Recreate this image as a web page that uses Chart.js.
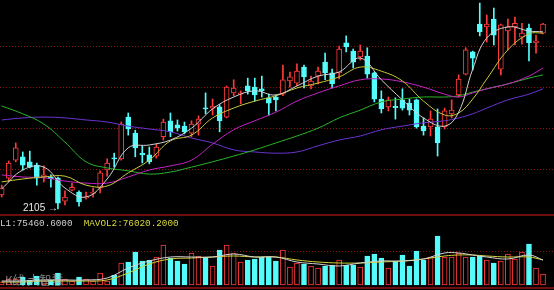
<!DOCTYPE html>
<html>
<head>
<meta charset="utf-8">
<script src="https://cdn.jsdelivr.net/npm/chart.js@4.4.1/dist/chart.umd.min.js"></script>
<style>
  body { margin: 0; background: #000; width: 554px; height: 290px; overflow: hidden; position: relative; }
  canvas { position: absolute; left: 0; }
  #price { top: 0; }
  #vol { top: 214px; }
  .sep { position: absolute; left: 0; width: 554px; height: 2px; background: #6e0f0f; }
  .txt { position: absolute; white-space: pre; }
</style>
</head>
<body>
<canvas id="price" width="554" height="214"></canvas>
<canvas id="vol" width="554" height="76"></canvas>
<div class="sep" style="top:214px"></div>
<div class="sep" style="top:287px"></div>
<div class="txt" id="lowLabel" style="left:23px;top:202px;font:10px 'Liberation Sans';color:#e8e8e8"></div>
<div class="txt" style="left:0;top:218px;font:9.3px 'Liberation Mono';color:#d0d0d0"><span id="mv1"></span>  <span id="mv2" style="color:#d8d840"></span></div>
<div class="txt" style="left:5px;top:271px;font:12px 'Noto Sans CJK SC';color:rgba(170,170,170,0.75)">K线 大智慧</div>
<script>
// daily candles, k = 0..77
const opens  = [2139,2180,2224,2232,2220,2212,2183,2182,2180,2124,2151,2146,2132,2143,2156,2200,2229,2227,2329,2290,
                2241,2237,2234,2281,2320,2310,2307,2290,2312,2351,2351,2354,2329,2388,2385,2405,2402,2398,2376,2378,
                2385,2417,2412,2451,2405,2429,2463,2437,2437,2510,2490,2476,2478,2437,2373,2354,2355,2371,2363,2371,
                2307,2305,2305,2305,2337,2383,2434,2488,2556,2549,2568,2446,2539,2549,2524,2546,2510,2534];
const closes = [2156,2217,2254,2212,2207,2180,2188,2179,2119,2134,2158,2122,2134,2144,2193,2217,2227,2312,2300,2254,
                2237,2220,2256,2317,2293,2302,2293,2312,2324,2349,2356,2320,2402,2400,2388,2393,2383,2393,2363,2371,
                2420,2427,2441,2427,2417,2441,2437,2410,2495,2500,2463,2490,2434,2373,2349,2371,2352,2351,2346,2305,
                2295,2324,2266,2344,2346,2422,2493,2473,2537,2556,2529,2554,2549,2558,2534,2510,2515,2556];
const highs  = [2163,2222,2266,2244,2246,2217,2210,2188,2183,2149,2168,2149,2146,2156,2198,2227,2241,2317,2339,2297,
                2259,2256,2263,2324,2339,2322,2317,2320,2332,2388,2373,2359,2405,2420,2393,2424,2424,2429,2385,2383,
                2456,2439,2459,2456,2429,2451,2485,2446,2502,2527,2495,2505,2498,2439,2393,2378,2376,2398,2373,2373,
                2327,2344,2349,2351,2371,2432,2498,2490,2607,2578,2595,2556,2568,2573,2558,2556,2529,2558];
const lows   = [2134,2171,2220,2200,2205,2163,2171,2158,2105,2115,2149,2112,2129,2134,2144,2185,2207,2224,2285,2232,
                2217,2215,2229,2273,2281,2295,2288,2281,2285,2337,2334,2293,2327,2381,2361,2385,2368,2378,2334,2344,
                2381,2402,2405,2400,2398,2410,2420,2400,2422,2488,2449,2468,2424,2366,2339,2344,2324,2346,2334,2302,
                2285,2283,2234,2300,2327,2378,2432,2444,2527,2512,2505,2432,2493,2505,2507,2466,2485,2532];
const volumes = [9100,18200,18200,24200,15200,27300,12100,15200,36400,18200,12100,24200,18200,12100,36400,12100,30300,66700,69700,100000,
                 72700,75800,84800,121200,81800,72700,63600,97000,87900,84800,57600,106100,121200,97000,69700,75800,78800,84800,84800,72700,
                 106100,54500,66700,63600,57600,51500,57600,60600,75800,60600,60600,54500,87900,93900,81800,51500,72700,90900,57600,103000,
                 75800,84800,148500,84800,84800,97000,84800,84800,87900,75800,66700,72700,93900,78800,100000,124200,51500,33300];

// moving averages, read at these candle positions
const maIndex = [0,3,6,9,12,15,18,21,24,27,30,33,36,39,42,45,48,51,54,57,60,63,65,67,69,72,75,77];
const ma5  = [2154,2200,2207,2156,2134,2178,2254,2261,2273,2302,2349,2378,2393,2383,2405,2429,2439,2473,2420,2371,2327,2307,2341,2446,2522,2549,2539,2537];
const ma10 = [2171,2178,2183,2185,2163,2161,2193,2224,2271,2285,2327,2351,2368,2381,2400,2412,2427,2451,2441,2417,2368,2334,2339,2373,2422,2493,2532,2534];
const ma20 = [2188,2183,2181,2173,2168,2168,2183,2200,2210,2224,2263,2298,2320,2341,2368,2388,2405,2420,2422,2415,2402,2385,2378,2388,2398,2410,2429,2449];
const ma40 = [2356,2337,2312,2268,2220,2205,2198,2190,2195,2207,2220,2234,2249,2266,2283,2302,2327,2346,2366,2373,2378,2378,2381,2390,2398,2410,2424,2432];
const ma60 = [2322,2327,2329,2327,2322,2317,2307,2300,2293,2278,2266,2249,2244,2241,2244,2259,2273,2283,2298,2307,2315,2320,2327,2337,2351,2371,2385,2398];
const mavol1 = [12100,12100,15200,15200,15200,21200,51500,72700,84800,84800,84800,93900,84800,84800,69700,63600,57600,66700,72700,72700,78800,97000,97000,90900,84800,78800,90900,75460.6];
const mavol2 = [9100,9100,12100,12100,12100,15200,36400,63600,78800,81800,84800,87900,84800,84800,75800,69700,66700,66700,69700,72700,78800,87900,90900,90900,87900,84800,84800,76020.2];

const priceGrid = [2200, 2300, 2400, 2500];
const volGrid = [100000];

const RED = '#ff3a3a', CYAN = '#54fcfc';
const up = opens.map((o, i) => closes[i] >= o);
const edge = up.map(u => u ? RED : CYAN);
const fill = up.map(u => u ? '#000' : CYAN);

const xMin = -0.24, xMax = 78.56;
const pts = arr => arr.map((v, i) => ({ x: maIndex[i], y: v }));

function maLine(data, color) {
  return { type: 'line', data: pts(data), borderColor: color, borderWidth: 1, pointRadius: 0, tension: 0.4 };
}

function baseScales(yMin, yMax, grid) {
  return {
    x: { type: 'linear', min: xMin, max: xMax, offset: false, display: false },
    y: {
      min: yMin, max: yMax,
      ticks: { display: false },
      grid: { color: '#8a1515', drawTicks: false },
      border: { display: false, dash: [1, 2] },
      afterBuildTicks: s => { s.ticks = grid.map(v => ({ value: v })); }
    }
  };
}

const commonOpts = {
  responsive: false, animation: false, devicePixelRatio: 1,
  layout: { padding: 0 },
  plugins: { legend: { display: false }, tooltip: { enabled: false } },
  events: []
};

new Chart(document.getElementById('price'), {
  type: 'bar',
  data: {
    datasets: [
      maLine(ma5, '#d2d2d2'),
      maLine(ma10, '#c8c83a'),
      maLine(ma20, '#c424c4'),
      maLine(ma40, '#28b428'),
      maLine(ma60, '#6a34d2'),
      {
        data: opens.map((o, i) => ({ x: i, y: [o, closes[i]] })),
        backgroundColor: fill, borderColor: edge, borderWidth: 1, borderSkipped: false,
        barThickness: 5, minBarLength: 1, grouped: false
      },
      {
        data: lows.map((l, i) => ({ x: i, y: [l, highs[i]] })),
        backgroundColor: edge, borderWidth: 0,
        barThickness: 1, grouped: false
      }
    ]
  },
  options: Object.assign({}, commonOpts, { scales: baseScales(2092.65, 2614.6, priceGrid) })
});

new Chart(document.getElementById('vol'), {
  type: 'bar',
  data: {
    datasets: [
      maLine(mavol1, '#d2d2d2'),
      maLine(mavol2, '#d2d23a'),
      {
        data: volumes.map((v, i) => ({ x: i, y: v })),
        backgroundColor: fill, borderColor: edge, borderWidth: 1, borderSkipped: false,
        barThickness: 5, grouped: false
      }
    ]
  },
  options: Object.assign({}, commonOpts, { scales: baseScales(-15150, 215130, volGrid) })
});

document.getElementById('lowLabel').textContent = Math.min(...lows) + ' \u2192';
document.getElementById('mv1').textContent = 'L1:' + mavol1[mavol1.length - 1].toFixed(4);
document.getElementById('mv2').textContent = 'MAVOL2:' + mavol2[mavol2.length - 1].toFixed(4);
</script>
</body>
</html>
